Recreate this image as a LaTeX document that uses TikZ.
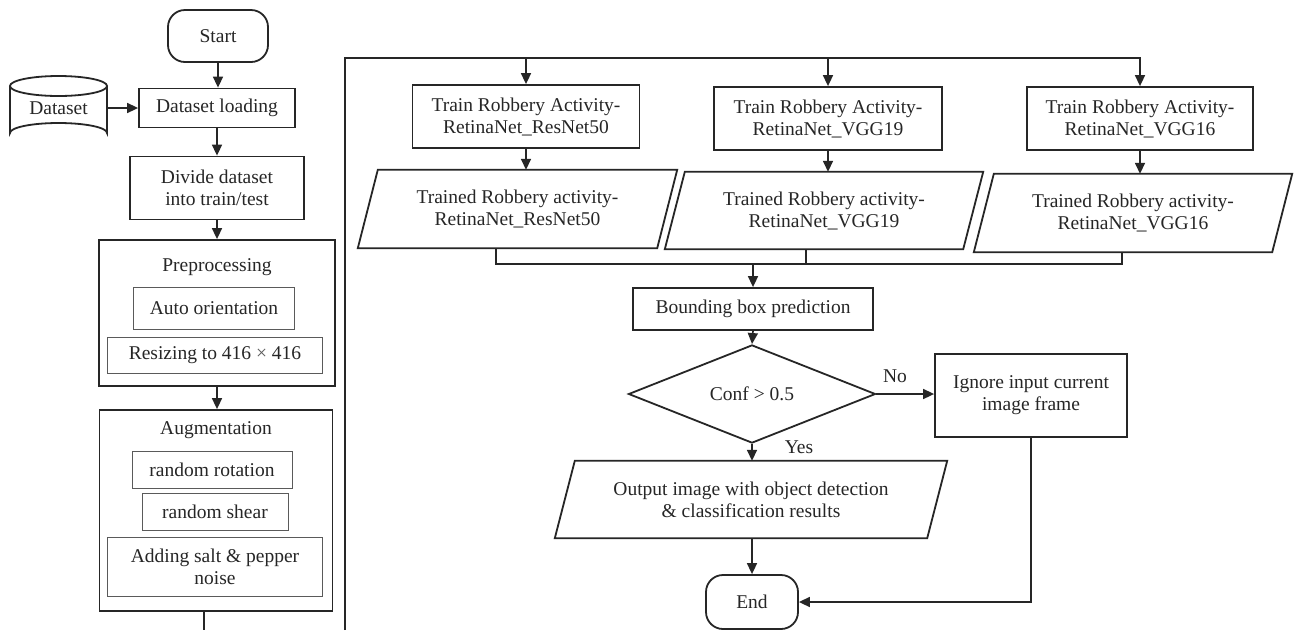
\documentclass[tikz,border=0pt]{standalone}
\usepackage{fontspec}
\setmainfont{Liberation Serif}
\usetikzlibrary{arrows.meta,shapes.geometric,calc}
\definecolor{ink}{HTML}{262626}
\definecolor{thin}{HTML}{5A5A5A}
\tikzset{
  every node/.style={font=\fontsize{19.5}{22}\selectfont, text=ink},
  box/.style={draw=ink, line width=1.8pt, rectangle, align=center, inner sep=0pt},
  inbox/.style={draw=thin, line width=1pt, rectangle, align=center, inner sep=0pt},
  term/.style={draw=ink, line width=1.8pt, rectangle, rounded corners=17pt, inner sep=0pt},
  parabody/.style={rectangle, align=center, inner sep=0pt},
  paraline/.style={draw=ink, line width=1.8pt, line join=miter},
  conn/.style={draw=ink, line width=1.6pt},
  arr/.style={conn, -{Triangle[length=11pt,width=10pt]}},
  lbl/.style={inner sep=0pt},
}
\begin{document}
\begin{tikzpicture}[x=1pt,y=-1pt]
\useasboundingbox[fill=white] (0,0) rectangle (1297,630);

% ---- left column ----
\node[term, minimum width=100pt, minimum height=52pt] (start) at (218,36) {Start};
\node[rectangle, minimum width=97pt, minimum height=67pt, inner sep=0pt] (ds) at (58.5,108) {Dataset};
\draw[paraline] (10,86) -- (10,133) arc[start angle=180, end angle=360, x radius=48.5, y radius=10] -- (107,86);
\draw[paraline] (58.5,86) ellipse[x radius=48.5, y radius=10];
\node[box, minimum width=156pt, minimum height=39pt] (load) at (217,108) {Dataset loading};
\node[box, minimum width=174pt, minimum height=63pt] (divide) at (217,188) {Divide dataset\\into train/test};

\node[box, minimum width=236pt, minimum height=146pt] (prep) at (217,313) {};
\node[lbl] (preptitle) at (217,267) {Preprocessing};
\node[inbox, minimum width=161pt, minimum height=42pt] (auto) at (214,308) {Auto orientation};
\node[inbox, minimum width=215pt, minimum height=36pt] (resize) at (215,355) {Resizing to 416 {\color{thin}×} 416};

\node[box, minimum width=233pt, minimum height=201pt] (aug) at (216,510.5) {};
\node[lbl] (augtitle) at (216,430) {Augmentation};
\node[inbox, minimum width=160pt, minimum height=37pt] (rot) at (212,469.5) {random rotation};
\node[inbox, minimum width=146pt, minimum height=37pt] (shear) at (215,511.5) {random shear};
\node[inbox, minimum width=215pt, minimum height=59pt] (salt) at (215,566.5) {Adding salt \& pepper\\noise};

\draw[arr] (start.south) -- (start.south |- load.north);
\draw[arr] (ds.east) -- (load.west);
\draw[arr] (load.south) -- (load.south |- divide.north);
\draw[arr] (divide.south) -- (divide.south |- prep.north);
\draw[arr] (prep.south) -- (prep.south |- aug.north);
\coordinate (augend) at (204,630);
\draw[conn] (aug.south -| augend) -- (augend);

% ---- training row ----
\node[box, minimum width=227pt, minimum height=63pt] (t1) at (526,116.5) {Train Robbery Activity-\\RetinaNet\_ResNet50};
\node[box, minimum width=228pt, minimum height=63pt] (t2) at (828,118.5) {Train Robbery Activity-\\RetinaNet\_VGG19};
\node[box, minimum width=226pt, minimum height=63pt] (t3) at (1140,118.5) {Train Robbery Activity-\\RetinaNet\_VGG16};

\coordinate (lb) at (345,630);
\coordinate (lt) at (345,58);
\draw[arr] (lb) -- (lt) -- (t3.north |- lt) -- (t3.north);
\draw[arr] (t1.north |- lt) -- (t1.north);
\draw[arr] (t2.north |- lt) -- (t2.north);

\node[parabody, minimum width=319pt, minimum height=78pt] (p1) at (517.5,209) {Trained Robbery activity-\\RetinaNet\_ResNet50};
\node[parabody, minimum width=318pt, minimum height=77pt] (p2) at (824,210.5) {Trained Robbery activity-\\RetinaNet\_VGG19};
\node[parabody, minimum width=318pt, minimum height=78pt] (p3) at (1133,213) {Trained Robbery activity-\\RetinaNet\_VGG16};
\node[parabody, minimum width=392pt, minimum height=77pt] (out) at (751,499.5) {Output image with object detection\\\& classification results};
\foreach \p in {p1,p2,p3,out}{
  \draw[paraline] ($(\p.north west)+(20,0)$) -- (\p.north east) -- ($(\p.south east)-(20,0)$) -- (\p.south west) -- cycle;
}

\draw[arr] (t1.south) -- (t1.south |- p1.north);
\draw[arr] (t2.south) -- (t2.south |- p2.north);
\draw[arr] (t3.south) -- (t3.south |- p3.north);

\coordinate (c1) at (496,264);
\coordinate (c2) at (806,264);
\coordinate (c3) at (1122,264);
\draw[conn] (p1.south -| c1) -- (c1) -- (c3) -- (p3.south -| c3);
\draw[conn] (p2.south -| c2) -- (c2);

% ---- decision part ----
\node[box, minimum width=240pt, minimum height=42pt] (bbox) at (753,309) {Bounding box prediction};
\draw[arr] (bbox.north |- c1) -- (bbox.north);
\node[draw=ink, line width=1.8pt, diamond, minimum width=247pt, minimum height=78pt, inner sep=0pt] (dia) at (752,394) {Conf > 0.5};
\draw[arr] (bbox.south) -- (dia.north);
\node[box, minimum width=192pt, minimum height=83pt] (ignore) at (1031,395.5) {Ignore input current\\image frame};
\draw[arr] (dia.east) -- (dia.east -| ignore.west);
\node[lbl] (nolbl) at (895,376) {No};
\draw[arr] (dia.south) -- (dia.south |- out.north);
\node[lbl] (yeslbl) at (799,447) {Yes};
\node[term, minimum width=92pt, minimum height=54pt] (end) at (752,602) {End};
\draw[arr] (out.south -| end.north) -- (end.north);
\draw[arr] (ignore.south) |- (end.east);
\end{tikzpicture}
\end{document}
